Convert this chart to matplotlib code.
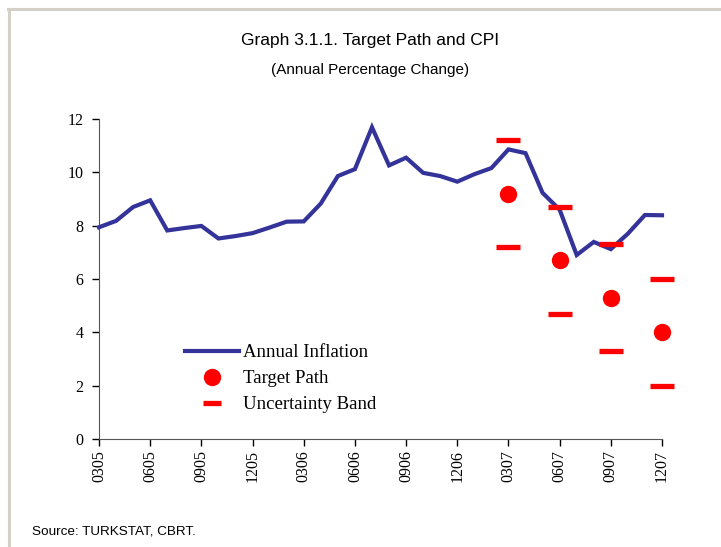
import numpy as np
import matplotlib
matplotlib.use("Agg")
import matplotlib.pyplot as plt
from matplotlib.lines import Line2D

# monthly annual CPI inflation, 03/2005 .. 12/2007
inflation = [7.94, 8.18, 8.70, 8.95, 7.82, 7.91, 7.99, 7.52, 7.61, 7.72,
             7.93, 8.15, 8.16, 8.83, 9.86, 10.12, 11.69, 10.26, 10.55, 9.98,
             9.86, 9.65, 9.93, 10.16, 10.86, 10.72, 9.23, 8.60, 6.90, 7.39,
             7.12, 7.70, 8.40, 8.39]
tick_labels = ["0305", "0605", "0905", "1205", "0306", "0606", "0906", "1206",
               "0307", "0607", "0907", "1207"]
# target path (quarter ends of 2007) and uncertainty band
target_months = [24, 27, 30, 33]
target_path = [9.2, 6.7, 5.3, 4.0]
band_upper = [11.2, 8.7, 7.3, 6.0]
band_lower = [7.2, 4.7, 3.3, 2.0]

blue = "#333399"
red = "#ff0000"
serif = ["Liberation Serif", "DejaVu Serif"]
sans = ["Liberation Sans", "DejaVu Sans"]

fig = plt.figure(figsize=(7.21, 5.47), dpi=100)
ax = fig.add_axes([99/721, 1-439/547, 563/721, 320/547])

months = np.arange(len(inflation))
ax.plot(months, inflation, color=blue, lw=3, solid_joinstyle="miter", zorder=3, clip_on=False)
ax.plot(target_months, target_path, "o", color=red, ms=12.5, mew=0, zorder=4, clip_on=False)
ax.plot(target_months, band_upper, "_", color=red, ms=17, mew=3.8, zorder=4, clip_on=False)
ax.plot(target_months, band_lower, "_", color=red, ms=17, mew=3.8, zorder=4, clip_on=False)

ax.set_xlim(0, 33)
ax.set_ylim(0, 12)
ax.tick_params(axis="both", direction="out", length=5, width=1, color="black")
ax.tick_params(axis="x", pad=3)
ax.tick_params(axis="y", pad=6)
ax.set_xticks(np.arange(0, 34, 3))
ax.set_xticklabels(tick_labels)
ax.set_yticks(np.arange(0, 13, 2))
ax.set_yticklabels([str(v) for v in range(0, 13, 2)])
for t in ax.get_xticklabels():
    t.set_rotation(90)
    t.set_fontfamily(serif)
    t.set_fontsize(11.5)
for t in ax.get_yticklabels():
    t.set_fontfamily(serif)
    t.set_fontsize(11.5)
for s in ["top", "right"]:
    ax.spines[s].set_visible(False)
for s in ["left", "bottom"]:
    ax.spines[s].set_color("#555555")

handles = [Line2D([], [], color=blue, lw=3),
           Line2D([], [], marker="o", ls="", color=red, ms=12.5, mew=0),
           Line2D([], [], marker="_", ls="", color=red, ms=13, mew=3.8)]
fig.legend(handles, ["Annual Inflation", "Target Path", "Uncertainty Band"],
           loc="upper left", bbox_to_anchor=(185/721, 1-344/547), frameon=False,
           prop={"family": serif, "size": 13.5}, handlelength=2.9, handletextpad=0.2,
           labelspacing=0.48, borderpad=0, borderaxespad=0)

fig.text(370/721, 1-40/547, "Graph 3.1.1. Target Path and CPI", ha="center", va="center",
         fontfamily=sans, fontsize=12.5)
fig.text(370/721, 1-70/547, "(Annual Percentage Change)", ha="center", va="center",
         fontfamily=sans, fontsize=11)
fig.text(32/721, 1-531/547, "Source: TURKSTAT, CBRT.", ha="left", va="center",
         fontfamily=sans, fontsize=9.7)

# outer gray frame (top and left)
fig.add_artist(Line2D([8/721, 1], [1-8.5/547, 1-8.5/547], color="#d4d0c8", lw=2.2))
fig.add_artist(Line2D([9/721, 9/721], [0, 1-8.5/547], color="#d4d0c8", lw=2.2))

fig.savefig("out.png", dpi=100)
